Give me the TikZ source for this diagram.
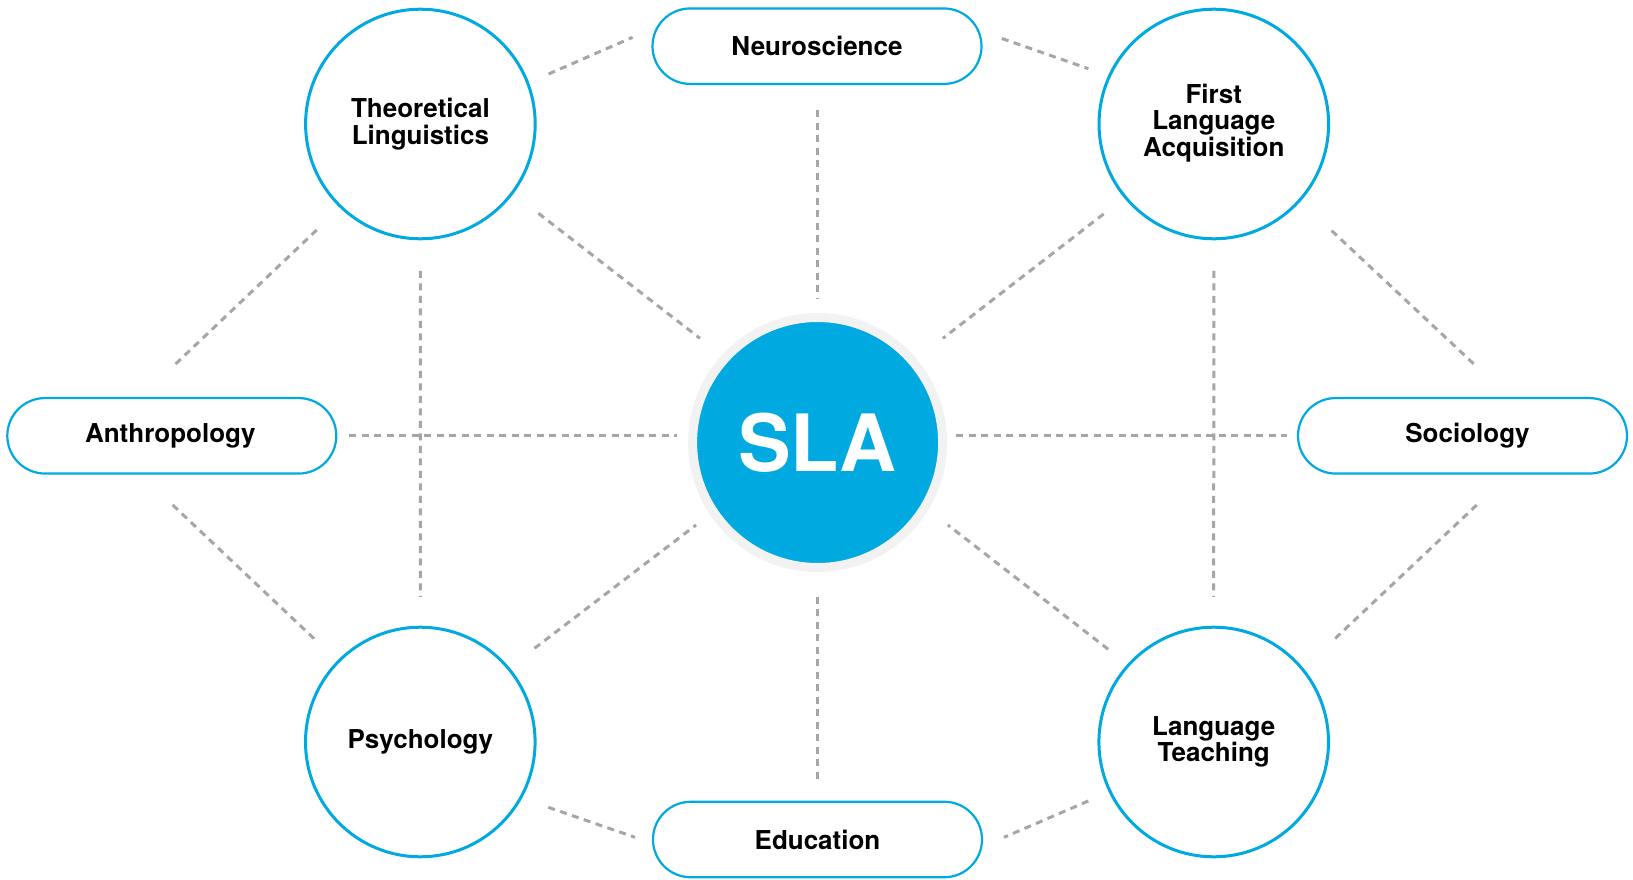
\documentclass[tikz,border=0pt]{standalone}
\usepackage{fontspec}
\setmainfont{TeX Gyre Heros}
\usetikzlibrary{calc}
\definecolor{slablue}{RGB}{0,169,224}
\definecolor{halo}{RGB}{242,242,242}
\definecolor{dashgray}{RGB}{166,166,166}
\tikzset{
  field/.style={circle, draw=slablue, line width=3pt, fill=white, minimum size=229.6pt, inner sep=0pt,
    align=center, font=\fontsize{26}{26.6}\selectfont\bfseries, text=black},
  pill/.style={rectangle, draw=slablue, line width=2.2pt, fill=white, rounded corners=37.7pt,
    minimum width=329pt, minimum height=75.5pt, inner sep=0pt,
    font=\fontsize{26}{26.6}\selectfont\bfseries, text=black},
  hub/.style={circle, draw=halo, line width=9pt, fill=slablue, minimum size=250pt, inner sep=0pt,
    font=\fontsize{79}{79}\selectfont\bfseries, text=white},
  conn/.style={draw=dashgray, line width=3pt, dash pattern=on 7pt off 5.5pt}
}
\begin{document}
\begin{tikzpicture}[x=1pt,y=-1pt]
\useasboundingbox[fill=white] (0,0) rectangle (1633,880);

% nodes
\node[hub] (sla) at (817.6,442.5) {SLA};
\node[field] (theo) at (420.4,124) {Theoretical\\Linguistics};
\node[field, text depth=8pt] (fla) at (1213.8,124) {First\\Language\\Acquisition};
\node[field] (psy) at (420.3,742) {Psychology};
\node[field] (lt) at (1213.7,742) {Language\\Teaching};
\node[pill] (neuro) at (817,46.2) {Neuroscience};
\node[pill] (edu) at (817.5,839.5) {Education};
\node[pill] (anthro) at (171.8,435.8) {Anthropology\hspace*{3pt}};
\node[pill] (soc) at (1462.5,435.8) {\hspace*{10pt}Sociology};

% connectors
\draw[conn] ($(theo)+(128.2,-50)$) -- ($(neuro)+(-184.4,-8.9)$);
\draw[conn] ($(neuro)+(184.9,-7.7)$) -- ($(fla)+(-125.4,-55.3)$);
\draw[conn] ($(neuro)+(0.6,64)$) -- ($(sla)+(0,-144.5)$);
\draw[conn] ($(theo)+(118,89.3)$) -- ($(sla)+(-117.7,-104.2)$);
\draw[conn] ($(fla)+(-110.2,90)$) -- ($(sla)+(125.3,-104.2)$);
\draw[conn] ($(theo)+(-103.7,106)$) -- ($(anthro)+(0.9,-69.1)$);
\draw[conn] ($(theo)+(0,146.8)$) -- ($(psy)+(0,-145.2)$);
\draw[conn] ($(fla)+(117.9,106.7)$) -- ($(soc)+(14.2,-69.1)$);
\draw[conn] ($(fla)+(0,146.8)$) -- ($(lt)+(0,-145.2)$);
\draw[conn] ($(anthro)+(177.3,0)$) -- ($(anthro -| sla)+(-140.6,0)$);
\draw[conn] ($(soc -| sla)+(138.4,0)$) -- ($(soc)+(-176,0)$);
\draw[conn] ($(anthro)+(0.9,69.2)$) -- ($(psy)+(-103,-100.3)$);
\draw[conn] ($(soc)+(14.2,69.2)$) -- ($(lt)+(118,-100.3)$);
\draw[conn] ($(psy)+(114.2,-93.7)$) -- ($(sla)+(-121.6,82.5)$);
\draw[conn] ($(lt)+(-105.5,-92.7)$) -- ($(sla)+(130.3,82.5)$);
\draw[conn] ($(sla)+(0,154.2)$) -- ($(edu)+(0.1,-55.5)$);
\draw[conn] ($(psy)+(128,65.3)$) -- ($(edu)+(-182.5,-2.2)$);
\draw[conn] ($(lt)+(-125.4,59)$) -- ($(edu)+(186.5,-2.2)$);
\end{tikzpicture}
\end{document}
